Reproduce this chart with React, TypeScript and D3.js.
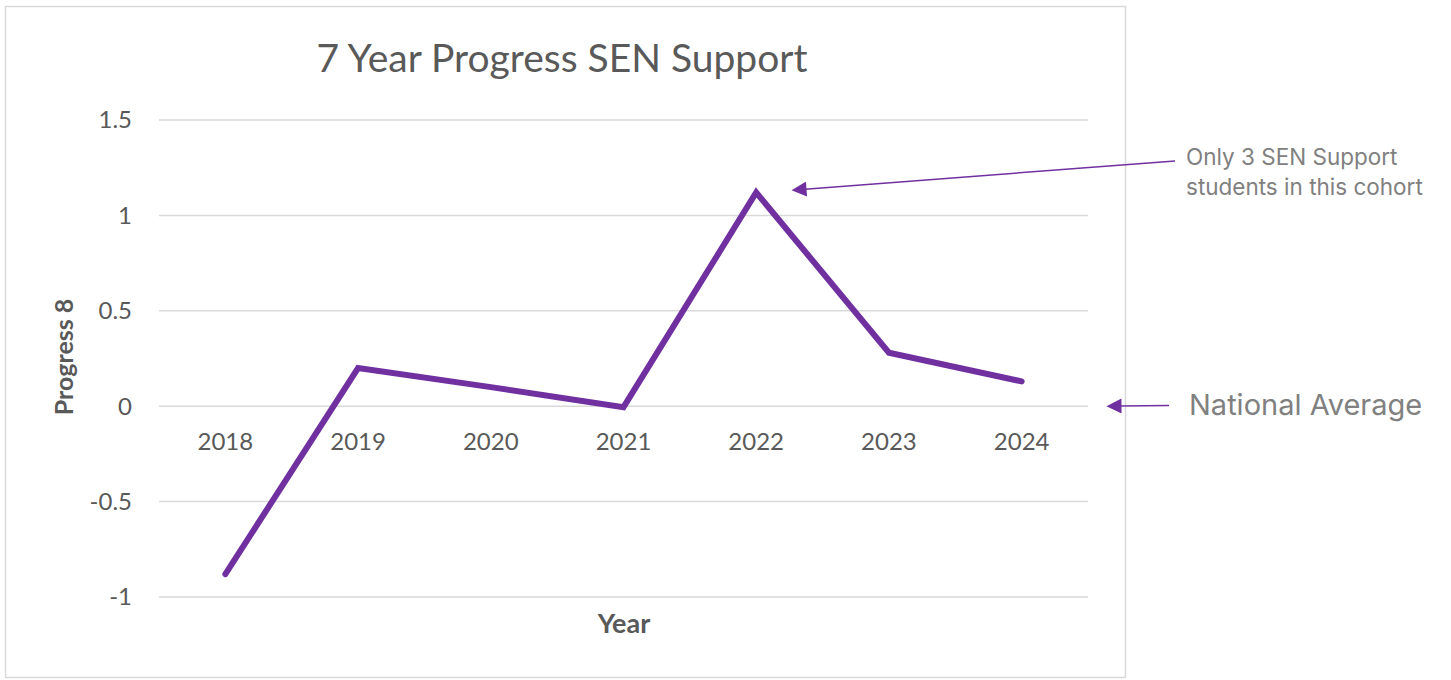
import { useEffect, useRef } from "react";
import * as d3 from "d3";

const WIDTH = 1451;
const HEIGHT = 680;
const MARGIN = { top: 120, right: 363, bottom: 83, left: 159 };

const years = ["2018", "2019", "2020", "2021", "2022", "2023", "2024"];
const progress8 = [-0.88, 0.2, 0.1, -0.005, 1.12, 0.28, 0.13];
const yTicks = [-1, -0.5, 0, 0.5, 1, 1.5];

const TITLE = "7 Year Progress SEN Support";
const LINE_COLOR = "#7030A0";
const TEXT_COLOR = "#595959";
const CHART_FONT = 'Lato, "Open Sans", sans-serif';
const NOTE_FONT = 'Inter, "Noto Sans", sans-serif';

const App = () => {
    const ref = useRef<SVGSVGElement>(null);

    useEffect(() => {
        const svg = d3.select(ref.current);
        svg.selectAll("*").remove();

        const boundsWidth = WIDTH - MARGIN.left - MARGIN.right;
        const plotBottom = 597;

        const xScale = d3.scaleBand<string>().domain(years).range([MARGIN.left, MARGIN.left + boundsWidth]);
        const yScale = d3.scaleLinear().domain([-1, 1.5]).range([plotBottom, MARGIN.top]);

        const defs = svg.append("defs");
        defs.append("marker")
            .attr("id", "arrow")
            .attr("viewBox", "0 0 10 10")
            .attr("refX", 1)
            .attr("refY", 5)
            .attr("markerWidth", 16)
            .attr("markerHeight", 15)
            .attr("markerUnits", "userSpaceOnUse")
            .attr("orient", "auto")
            .append("path")
            .attr("d", "M10,5 L0,0 L0,10 Z")
            .attr("fill", LINE_COLOR);

        // chart frame
        svg.append("rect")
            .attr("x", 5.5).attr("y", 6.5)
            .attr("width", 1120).attr("height", 671)
            .attr("fill", "#fff")
            .attr("stroke", "#d9d9d9")
            .attr("stroke-width", 1.5);

        // title
        svg.append("text")
            .attr("x", 562).attr("y", 72)
            .attr("text-anchor", "middle")
            .attr("font-family", CHART_FONT)
            .attr("font-size", 39)
            .attr("fill", TEXT_COLOR)
            .text(TITLE);

        // gridlines
        svg.append("g")
            .selectAll("line")
            .data(yTicks)
            .join("line")
            .attr("x1", MARGIN.left).attr("x2", MARGIN.left + boundsWidth)
            .attr("y1", (d) => yScale(d)).attr("y2", (d) => yScale(d))
            .attr("stroke", "#d9d9d9")
            .attr("stroke-width", 1.5);

        // y labels
        svg.append("g")
            .selectAll("text")
            .data(yTicks)
            .join("text")
            .attr("x", 132)
            .attr("y", (d) => yScale(d))
            .attr("dy", "0.35em")
            .attr("text-anchor", "end")
            .attr("font-family", CHART_FONT)
            .attr("font-size", 24)
            .attr("fill", TEXT_COLOR)
            .text((d) => String(d));

        // x labels (sit just under the zero line)
        svg.append("g")
            .selectAll("text")
            .data(years)
            .join("text")
            .attr("x", (d) => (xScale(d) ?? 0) + xScale.bandwidth() / 2)
            .attr("y", yScale(0) + 35)
            .attr("dy", "0.35em")
            .attr("text-anchor", "middle")
            .attr("font-family", CHART_FONT)
            .attr("font-size", 24)
            .attr("fill", TEXT_COLOR)
            .text((d) => d);

        // axis titles
        svg.append("text")
            .attr("transform", `translate(64, 357) rotate(-90)`)
            .attr("dy", "0.35em")
            .attr("text-anchor", "middle")
            .attr("font-family", CHART_FONT)
            .attr("font-size", 25)
            .attr("font-weight", 700)
            .attr("fill", TEXT_COLOR)
            .text("Progress 8");

        svg.append("text")
            .attr("x", 624).attr("y", 624)
            .attr("dy", "0.35em")
            .attr("text-anchor", "middle")
            .attr("font-family", CHART_FONT)
            .attr("font-size", 27)
            .attr("font-weight", 700)
            .attr("fill", TEXT_COLOR)
            .text("Year");

        // the line
        const line = d3.line<number>()
            .x((_, i) => (xScale(years[i]) ?? 0) + xScale.bandwidth() / 2)
            .y((d) => yScale(d));

        svg.append("path")
            .attr("d", line(progress8))
            .attr("fill", "none")
            .attr("stroke", LINE_COLOR)
            .attr("stroke-width", 6)
            .attr("stroke-linecap", "round")
            .attr("stroke-linejoin", "miter");

        // annotations
        svg.append("line")
            .attr("x1", 1175).attr("y1", 161)
            .attr("x2", 805).attr("y2", 189.2)
            .attr("stroke", LINE_COLOR)
            .attr("stroke-width", 1.5)
            .attr("marker-end", "url(#arrow)");

        const note = svg.append("text")
            .attr("font-family", NOTE_FONT)
            .attr("font-size", 22.5)
            .attr("fill", "#808080");
        note.append("tspan").attr("x", 1186).attr("y", 165).text("Only 3 SEN Support");
        note.append("tspan").attr("x", 1186).attr("y", 195).text("students in this cohort");

        svg.append("line")
            .attr("x1", 1169).attr("y1", 405.5)
            .attr("x2", 1120).attr("y2", 406)
            .attr("stroke", LINE_COLOR)
            .attr("stroke-width", 1.5)
            .attr("marker-end", "url(#arrow)");

        svg.append("text")
            .attr("x", 1189).attr("y", 405)
            .attr("dy", "0.35em")
            .attr("font-family", NOTE_FONT)
            .attr("font-size", 29)
            .attr("fill", "#808080")
            .text("National Average");
    }, []);

    return (
        <svg ref={ref} width={WIDTH} height={HEIGHT} style={{ position: "absolute", left: 0, top: 0 }} />
    );
};

export default App;
